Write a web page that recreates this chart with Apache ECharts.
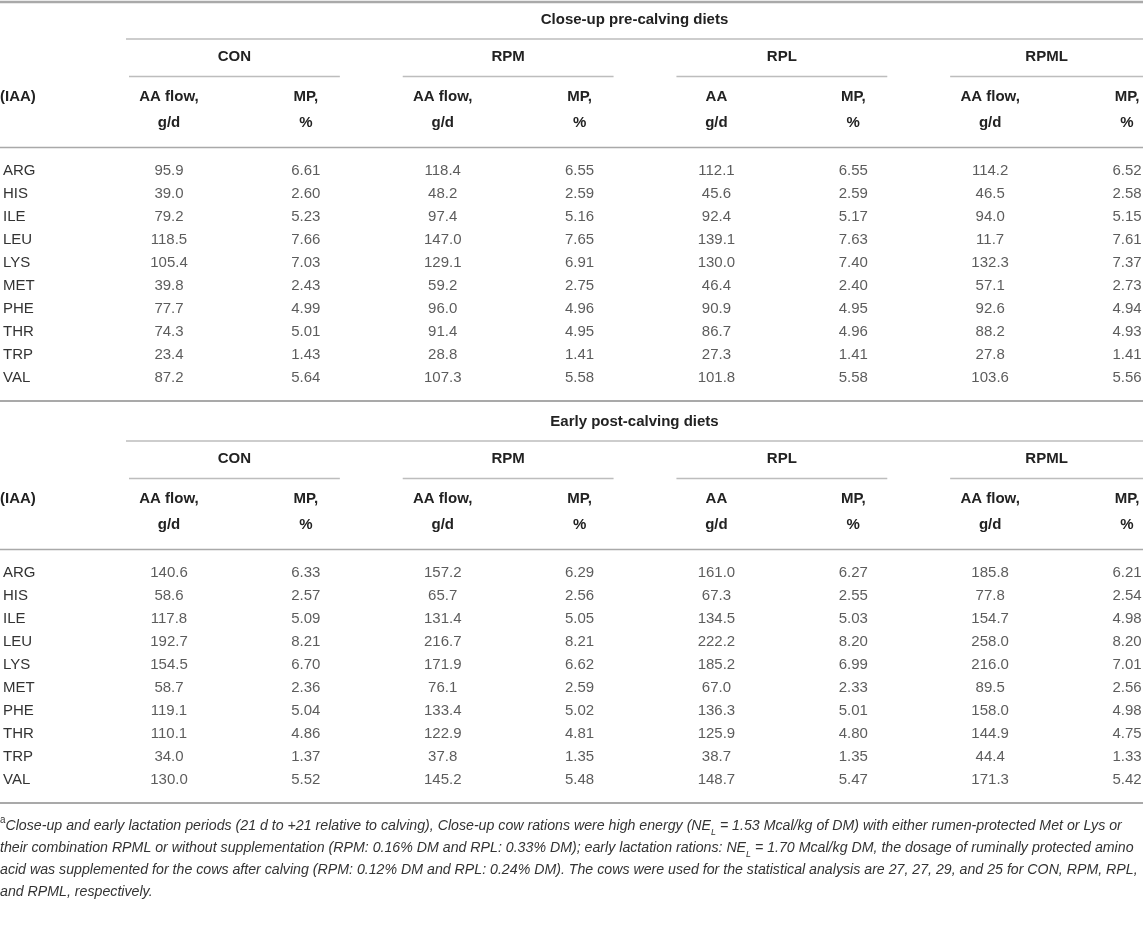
<!DOCTYPE html>
<html><head><meta charset="utf-8">
<script src="https://cdn.jsdelivr.net/npm/echarts@6/dist/echarts.min.js"></script>
<style>html,body{margin:0;padding:0;background:#fff}#c{width:1143px;height:941px}</style>
</head><body><div id="c"></div>
<script>
// ---------- data ----------
const aminoAcids = ['ARG','HIS','ILE','LEU','LYS','MET','PHE','THR','TRP','VAL'];
const diets = ['CON','RPM','RPL','RPML'];
const columnKeys = ['CON_AA','CON_MP','RPM_AA','RPM_MP','RPL_AA','RPL_MP','RPML_AA','RPML_MP'];
const columnHeaders = ['AA flow,\ng/d','MP,\n%','AA flow,\ng/d','MP,\n%','AA\ng/d','MP,\n%','AA flow,\ng/d','MP,\n%'];
const sectionTitles = ['Close-up pre-calving diets','Early post-calving diets'];
const rowHeader = '(IAA)';

// Close-up pre-calving diets
const pre_CON_AA  = [95.9, 39.0, 79.2, 118.5, 105.4, 39.8, 77.7, 74.3, 23.4, 87.2];
const pre_CON_MP  = [6.61, 2.60, 5.23, 7.66, 7.03, 2.43, 4.99, 5.01, 1.43, 5.64];
const pre_RPM_AA  = [118.4, 48.2, 97.4, 147.0, 129.1, 59.2, 96.0, 91.4, 28.8, 107.3];
const pre_RPM_MP  = [6.55, 2.59, 5.16, 7.65, 6.91, 2.75, 4.96, 4.95, 1.41, 5.58];
const pre_RPL_AA  = [112.1, 45.6, 92.4, 139.1, 130.0, 46.4, 90.9, 86.7, 27.3, 101.8];
const pre_RPL_MP  = [6.55, 2.59, 5.17, 7.63, 7.40, 2.40, 4.95, 4.96, 1.41, 5.58];
const pre_RPML_AA = [114.2, 46.5, 94.0, 11.7, 132.3, 57.1, 92.6, 88.2, 27.8, 103.6];
const pre_RPML_MP = [6.52, 2.58, 5.15, 7.61, 7.37, 2.73, 4.94, 4.93, 1.41, 5.56];

// Early post-calving diets
const post_CON_AA  = [140.6, 58.6, 117.8, 192.7, 154.5, 58.7, 119.1, 110.1, 34.0, 130.0];
const post_CON_MP  = [6.33, 2.57, 5.09, 8.21, 6.70, 2.36, 5.04, 4.86, 1.37, 5.52];
const post_RPM_AA  = [157.2, 65.7, 131.4, 216.7, 171.9, 76.1, 133.4, 122.9, 37.8, 145.2];
const post_RPM_MP  = [6.29, 2.56, 5.05, 8.21, 6.62, 2.59, 5.02, 4.81, 1.35, 5.48];
const post_RPL_AA  = [161.0, 67.3, 134.5, 222.2, 185.2, 67.0, 136.3, 125.9, 38.7, 148.7];
const post_RPL_MP  = [6.27, 2.55, 5.03, 8.20, 6.99, 2.33, 5.01, 4.80, 1.35, 5.47];
const post_RPML_AA = [185.8, 77.8, 154.7, 258.0, 216.0, 89.5, 158.0, 144.9, 44.4, 171.3];
const post_RPML_MP = [6.21, 2.54, 4.98, 8.20, 7.01, 2.56, 4.98, 4.75, 1.33, 5.42];

const footnoteLines = [
  '{sup|a}Close-up and early lactation periods (21 d to +21 relative to calving), Close-up cow rations were high energy (NE{sub|L} = 1.53 Mcal/kg of DM) with either rumen-protected Met or Lys or',
  'their combination RPML or without supplementation (RPM: 0.16% DM and RPL: 0.33% DM); early lactation rations: NE{sub|L} = 1.70 Mcal/kg DM, the dosage of ruminally protected amino',
  'acid was supplemented for the cows after calving (RPM: 0.12% DM and RPL: 0.24% DM). The cows were used for the statistical analysis are 27, 27, 29, and 25 for CON, RPM, RPL,',
  'and RPML, respectively.'
];

// ---------- build ----------
const sections = [
  [pre_CON_AA, pre_CON_MP, pre_RPM_AA, pre_RPM_MP, pre_RPL_AA, pre_RPL_MP, pre_RPML_AA, pre_RPML_MP],
  [post_CON_AA, post_CON_MP, post_RPM_AA, post_RPM_MP, post_RPL_AA, post_RPL_MP, post_RPML_AA, post_RPML_MP]
];

const FONT = '"Liberation Sans", Arial, Helvetica, sans-serif';
const FS = 15;
const RULE = '#a9a9a9';
const RULE_LIGHT = '#bdbdbd';
const ROW_H = 23;
const FIRST_ROW = [171, 573];

const grids = [], xAxes = [], yAxes = [], series = [];

sections.forEach((cols, s) => {
  grids.push({ left: 163, right: 16, top: FIRST_ROW[s] - ROW_H / 2, height: ROW_H * aminoAcids.length });
  xAxes.push({
    type: 'category', gridIndex: s, position: 'top', boundaryGap: false, data: columnKeys,
    axisLine: { show: false }, axisTick: { show: false }, splitLine: { show: false },
    axisLabel: {
      interval: 0, margin: 23.5, fontSize: FS, fontWeight: 'bold', color: '#222', lineHeight: 26, fontFamily: FONT,
      formatter: (v, i) => columnHeaders[i]
    }
  });
  yAxes.push({
    type: 'category', gridIndex: s, inverse: true, data: aminoAcids,
    axisLine: { show: false }, axisTick: { show: false }, splitLine: { show: false },
    axisLabel: { align: 'left', margin: 166, fontSize: FS, color: '#333', fontFamily: FONT }
  });
  const cells = [];
  cols.forEach((arr, c) => {
    const dec = (c % 2 === 0) ? 1 : 2;
    arr.forEach((v, r) => cells.push({ value: [c, r, v], dec }));
  });
  series.push({
    type: 'scatter', xAxisIndex: s, yAxisIndex: s, data: cells, symbolSize: 1,
    itemStyle: { color: 'rgba(0,0,0,0)' }, silent: true,
    label: {
      show: true, position: 'inside', fontSize: FS, color: '#333', fontFamily: FONT,
      formatter: p => p.data.value[2].toFixed(p.data.dec)
    }
  });
  // table frame: titles, group headers, rules (positioned from the axes)
  series.push({
    type: 'custom', xAxisIndex: s, yAxisIndex: s, data: [[0, 0]], silent: true, clip: false,
    renderItem: (params, api) => {
      const W = api.getWidth();
      const first = api.coord([0, 0]);
      const last = api.coord([0, aminoAcids.length - 1]);
      const y0 = first[1];
      const ch = [];
      const line = (x1, x2, y, w, c) => ({ type: 'line', shape: { x1, y1: y, x2, y2: y }, style: { stroke: c, lineWidth: w } });
      const text = (t, x, y, align) => ({ type: 'text', style: { text: t, x, y, align, verticalAlign: 'middle', font: 'bold ' + FS + 'px ' + FONT, fill: '#222' } });
      if (s === 0) ch.push(line(0, W, y0 - 169, 2.5, RULE));
      const titleLeft = first[0] - 43;
      ch.push(text(sectionTitles[s], (titleLeft + W) / 2, y0 - 151.5, 'center'));
      ch.push(line(titleLeft, W, y0 - 132, 1.5, RULE_LIGHT));
      diets.forEach((d, k) => {
        const a = api.coord([2 * k, 0]), b = api.coord([2 * k + 1, 0]);
        const x1 = a[0] - 40, x2 = Math.min(b[0] + 34, W);
        ch.push(text(d, (x1 + x2) / 2, y0 - 114, 'center'));
        ch.push(line(x1, x2, y0 - 94.5, 1.5, RULE_LIGHT));
      });
      ch.push(text(rowHeader, 0, y0 - 74, 'left'));
      ch.push(line(0, W, y0 - 23.5, 1.5, RULE));
      ch.push(line(0, W, last[1] + 23, 2, RULE));
      return { type: 'group', children: ch };
    }
  });
});

const chart = echarts.init(document.getElementById('c'), null, { renderer: 'canvas' });
chart.setOption({
  animation: false,
  backgroundColor: '#fff',
  textStyle: { fontFamily: FONT },
  grid: grids, xAxis: xAxes, yAxis: yAxes, series,
  graphic: [{
    type: 'text', left: 0, top: 815, silent: true, scaleX: 0.985,
    style: {
      text: footnoteLines.join('\n'),
      font: 'italic 14.4px ' + FONT, fill: '#333', lineHeight: 22,
      rich: {
        sup: { fontSize: 10, fontStyle: 'normal', verticalAlign: 'top', lineHeight: 14, fill: '#333' },
        sub: { fontSize: 9, fontStyle: 'italic', verticalAlign: 'bottom', lineHeight: 15, fill: '#333' }
      }
    }
  }]
});
</script></body></html>
